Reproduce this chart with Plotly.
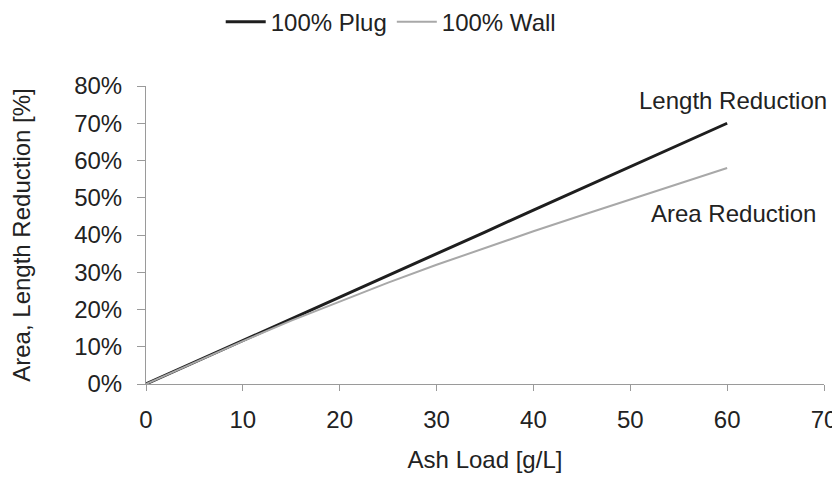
import plotly.graph_objects as go

ash_load = [0, 5, 10, 15, 20, 25, 30, 35, 40, 45, 50, 55, 60]
plug_length = [0, 5.8, 11.7, 17.5, 23.3, 29.2, 35.0, 40.8, 46.7, 52.5, 58.3, 64.2, 70.0]
wall_area = [0, 5.8, 11.5, 17.0, 22.2, 27.2, 32.0, 36.6, 41.0, 45.3, 49.6, 53.8, 58.0]

series_names = ["100% Plug", "100% Wall"]
x_ticks = [0, 10, 20, 30, 40, 50, 60, 70]
y_ticks = [0, 10, 20, 30, 40, 50, 60, 70, 80]
y_tick_labels = [f"{v}%" for v in y_ticks]

FONT = "Liberation Sans, Arial, sans-serif"
TXT = "#222222"
FS = 24

fig = go.Figure()
fig.add_trace(go.Scatter(x=ash_load, y=plug_length, mode="lines", name=series_names[0],
                         line=dict(color="#1e1e1e", width=3)))
fig.add_trace(go.Scatter(x=ash_load, y=wall_area, mode="lines", name=series_names[1],
                         line=dict(color="#a8a8a8", width=2)))

fig.add_annotation(x=60.6, y=76.0, text="Length Reduction", showarrow=False,
                   font=dict(size=FS, color=TXT, family=FONT))
fig.add_annotation(x=60.7, y=45.9, text="Area Reduction", showarrow=False,
                   font=dict(size=FS, color=TXT, family=FONT))

fig.update_layout(
    width=832, height=470,
    paper_bgcolor="white", plot_bgcolor="white",
    margin=dict(l=138, r=16, t=78, b=94, autoexpand=False),
    font=dict(family=FONT, size=FS, color=TXT),
    showlegend=True,
    legend=dict(orientation="h", x=0.46, xref="container", xanchor="center",
                y=0.97, yref="container", yanchor="middle",
                font=dict(size=FS, color=TXT), itemwidth=40,
                bgcolor="rgba(0,0,0,0)", tracegroupgap=0),
    xaxis=dict(range=[0, 70], tickvals=x_ticks, showgrid=False, zeroline=False,
               showline=True, linecolor="#9a9a9a", linewidth=1, automargin=False,
               ticks="outside", ticklen=6, tickcolor="#9a9a9a",
               tickfont=dict(size=FS, color=TXT), ticklabelstandoff=8,
               title=dict(text="Ash Load [g/L]", font=dict(size=FS, color=TXT), standoff=19)),
    yaxis=dict(range=[0, 80], tickvals=y_ticks, ticktext=y_tick_labels, showgrid=False,
               zeroline=False, showline=True, linecolor="#9a9a9a", linewidth=1, automargin=False,
               ticks="outside", ticklen=8, tickcolor="#9a9a9a",
               tickfont=dict(size=FS, color=TXT), ticklabelstandoff=10,
               title=dict(text="Area, Length Reduction [%]", font=dict(size=FS, color=TXT), standoff=42)),
)

fig.write_html("out.html")
